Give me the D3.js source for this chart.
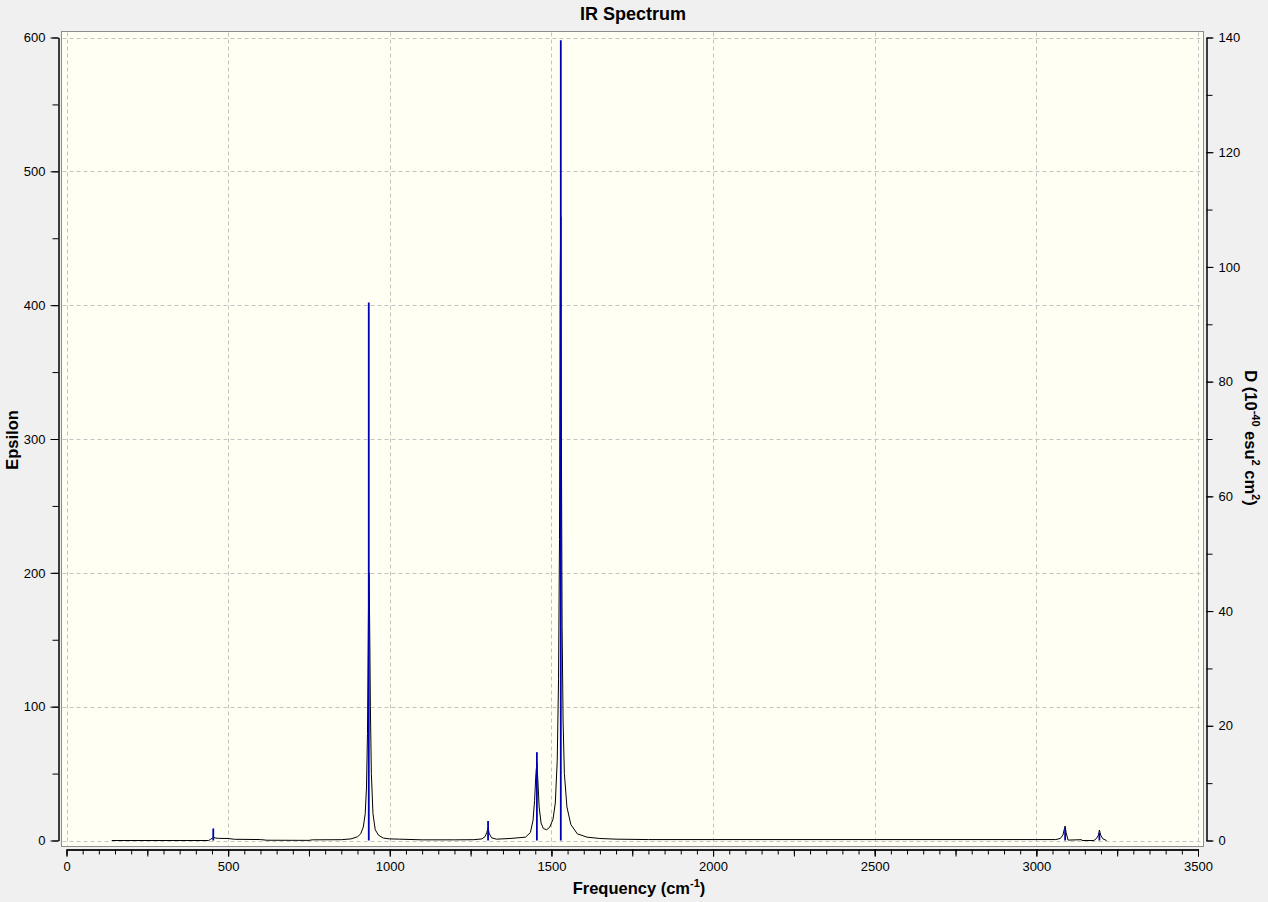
<!DOCTYPE html>
<html>
<head>
<meta charset="utf-8">
<script src="https://cdn.jsdelivr.net/npm/d3@7"></script>
<style>
  html, body { margin: 0; padding: 0; background: #f0f0f0; }
  svg { display: block; }
  text { font-family: "Liberation Sans", Arial, sans-serif; fill: #000; }
</style>
</head>
<body>
<svg id="chart" width="1268" height="902"></svg>
<script>
// ---------------- data ----------------
const xTickLabels = [0, 500, 1000, 1500, 2000, 2500, 3000, 3500];
const yLeftTickLabels = [0, 100, 200, 300, 400, 500, 600];
const yRightTickLabels = [0, 20, 40, 60, 80, 100, 120, 140];

// stick spectrum: frequency (cm-1) and dipole strength D (10^-40 esu^2 cm^2)
const stickFreq = [454, 935, 1304, 1455, 1529, 3089, 3195];
const stickD    = [2.1, 93.8, 3.4, 15.4, 139.5, 2.2, 1.3];

// broadened spectrum: frequency and epsilon
const curveFreq = [140, 440, 446, 452, 456, 462, 470, 500, 520, 600, 620, 750, 760, 850, 880, 900, 910, 918, 924, 928, 931, 933, 935, 936, 938, 940, 943, 948, 955, 965, 980, 1000, 1030, 1100, 1200, 1260, 1285, 1295, 1300, 1304, 1308, 1315, 1330, 1372, 1420, 1435, 1443, 1448, 1452, 1455, 1458, 1462, 1468, 1475, 1485, 1495, 1505, 1512, 1518, 1522, 1525, 1527, 1529, 1531, 1533, 1536, 1540, 1548, 1560, 1580, 1610, 1650, 1700, 1800, 3060, 3074, 3082, 3086, 3089, 3092, 3098, 3140, 3141, 3178, 3186, 3192, 3195, 3199, 3206, 3217];
const curveEps  = [0, 0, 1.0, 1.8, 2.2, 1.8, 1.6, 1.5, 0.9, 0.7, 0.2, 0.1, 0.5, 0.6, 1.2, 2.8, 5, 10, 20, 40, 80, 140, 200, 200, 155, 100, 50, 20, 8, 4, 1.8, 1.2, 1.0, 0.5, 0.5, 0.6, 1.2, 3, 6, 9, 5, 2, 1, 1.5, 2.5, 6, 15, 30, 50, 58, 45, 25, 13, 9, 8, 10, 16, 28, 60, 120, 225, 420, 466, 290, 160, 90, 50, 25, 12, 5, 2.5, 1.5, 1, 0.7, 0.7, 1.5, 4, 8, 10.8, 6, 0.3, 0.6, 0, 0, 1.5, 4, 7.8, 4, 1.2, 0];

// ---------------- layout ----------------
const svg = d3.select("#chart");
const plot = { left: 61.5, right: 1203.5, top: 31.5, bottom: 846.5 };

const x = d3.scaleLinear().domain([0, 3500]).range([66.5, 1198]);
const yL = d3.scaleLinear().domain([0, 600]).range([840.5, 37.5]);
const yR = d3.scaleLinear().domain([0, 140]).range([840.5, 37.5]);

// plot background
svg.append("rect")
  .attr("x", plot.left).attr("y", plot.top)
  .attr("width", plot.right - plot.left).attr("height", plot.bottom - plot.top)
  .attr("fill", "#fffff4").attr("stroke", "#8c8c8c").attr("stroke-width", 1);

// grid
const grid = svg.append("g").attr("stroke", "#c4c4c4").attr("stroke-dasharray", "4,3").attr("stroke-width", 1);
grid.selectAll("line.v").data(xTickLabels).join("line")
  .attr("x1", d => Math.round(x(d)) + 0.5).attr("x2", d => Math.round(x(d)) + 0.5)
  .attr("y1", plot.top + 1).attr("y2", plot.bottom - 1);
grid.selectAll("line.h").data(yLeftTickLabels).join("line")
  .attr("y1", d => Math.round(yL(d)) + 0.5).attr("y2", d => Math.round(yL(d)) + 0.5)
  .attr("x1", plot.left + 1).attr("x2", plot.right - 1);

// axes
function styleAxis(g) {
  g.selectAll("path.domain").attr("stroke", "#000").attr("stroke-width", 1);
  g.selectAll(".tick line").attr("stroke", "#000").attr("stroke-width", 1);
  g.selectAll(".tick text").style("font-size", "13px").attr("fill", "#000");
}
const xMinor = d3.range(0, 3501, 50);
const xMid = d3.range(0, 3501, 250);
svg.append("g").attr("transform", "translate(0,849.5)")
  .call(d3.axisBottom(x).tickValues(xMinor).tickFormat("").tickSize(5).tickSizeOuter(0)).call(styleAxis);
svg.append("g").attr("transform", "translate(0,849.5)")
  .call(d3.axisBottom(x).tickValues(xMid).tickFormat("").tickSize(7).tickSizeOuter(0)).call(styleAxis);
svg.append("g").attr("transform", "translate(0,849.5)")
  .call(d3.axisBottom(x).tickValues(xTickLabels).tickFormat(d3.format("d")).tickSize(7).tickPadding(5).tickSizeOuter(0))
  .call(styleAxis);

svg.append("g").attr("transform", "translate(58.5,0)")
  .call(d3.axisLeft(yL).tickValues(d3.range(0, 601, 50)).tickFormat("").tickSize(6).tickSizeOuter(0)).call(styleAxis);
svg.append("g").attr("transform", "translate(58.5,0)")
  .call(d3.axisLeft(yL).tickValues(yLeftTickLabels).tickFormat(d3.format("d")).tickSize(8).tickPadding(5).tickSizeOuter(0))
  .call(styleAxis);

svg.append("g").attr("transform", "translate(1206.5,0)")
  .call(d3.axisRight(yR).tickValues(d3.range(0, 141, 10)).tickFormat("").tickSize(6).tickSizeOuter(0)).call(styleAxis);
svg.append("g").attr("transform", "translate(1206.5,0)")
  .call(d3.axisRight(yR).tickValues(yRightTickLabels).tickFormat(d3.format("d")).tickSize(7).tickPadding(5).tickSizeOuter(0))
  .call(styleAxis);

// broadened curve
const pts = curveFreq.map((f, i) => [f, curveEps[i]]);
svg.append("path").datum(pts)
  .attr("fill", "none").attr("stroke", "#000").attr("stroke-width", 1)
  .attr("d", d3.line().x(d => x(d[0])).y(d => yL(d[1])));

// sticks
svg.append("g").selectAll("line").data(stickFreq.map((f, i) => [f, stickD[i]])).join("line")
  .attr("x1", d => x(d[0])).attr("x2", d => x(d[0]))
  .attr("y1", yR(0)).attr("y2", d => yR(d[1]))
  .attr("stroke", "#0000b4").attr("stroke-width", 1.8);

// titles
svg.append("text").attr("x", 633).attr("y", 20).attr("text-anchor", "middle")
  .style("font-size", "18px").style("font-weight", "bold").text("IR Spectrum");

const xt = svg.append("text").attr("x", 639).attr("y", 894).attr("text-anchor", "middle")
  .style("font-size", "16.5px").style("font-weight", "bold");
xt.append("tspan").text("Frequency (cm");
xt.append("tspan").attr("dy", -7).style("font-size", "11px").text("-1");
xt.append("tspan").attr("dy", 7).text(")");

svg.append("text").attr("transform", "translate(18,440) rotate(-90)").attr("text-anchor", "middle")
  .style("font-size", "16.5px").style("font-weight", "bold").text("Epsilon");

const rt = svg.append("text").attr("transform", "translate(1245,438) rotate(90)").attr("text-anchor", "middle")
  .style("font-size", "16.5px").style("font-weight", "bold");
rt.append("tspan").text("D (10");
rt.append("tspan").attr("dy", -7).style("font-size", "11px").text("-40");
rt.append("tspan").attr("dy", 7).text(" esu");
rt.append("tspan").attr("dy", -7).style("font-size", "11px").text("2");
rt.append("tspan").attr("dy", 7).text(" cm");
rt.append("tspan").attr("dy", -7).style("font-size", "11px").text("2");
rt.append("tspan").attr("dy", 7).text(")");
</script>
</body>
</html>
